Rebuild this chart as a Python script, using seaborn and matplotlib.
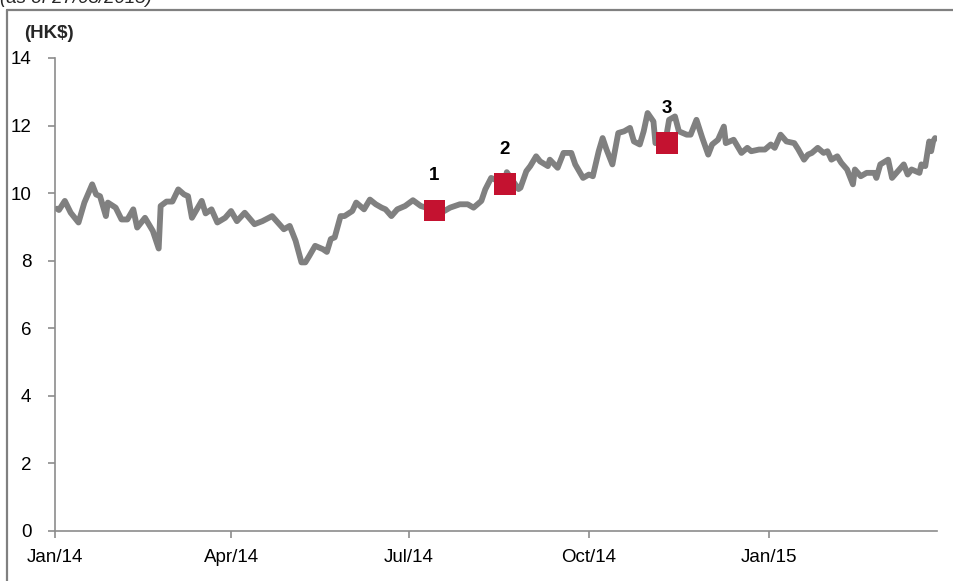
import matplotlib
matplotlib.use("Agg")
import matplotlib.pyplot as plt
from matplotlib.lines import Line2D
import seaborn as sns
import pandas as pd

dates = [
    "2014-01-02", "2014-01-03", "2014-01-06", "2014-01-09", "2014-01-13", "2014-01-16",
    "2014-01-20", "2014-01-22", "2014-01-24", "2014-01-27", "2014-01-28", "2014-02-01",
    "2014-02-04", "2014-02-07", "2014-02-10", "2014-02-12", "2014-02-16", "2014-02-20",
    "2014-02-23", "2014-02-24", "2014-02-27", "2014-03-02", "2014-03-05", "2014-03-08",
    "2014-03-10", "2014-03-12", "2014-03-17", "2014-03-19", "2014-03-22", "2014-03-25",
    "2014-03-29", "2014-04-01", "2014-04-04", "2014-04-08", "2014-04-13", "2014-04-17",
    "2014-04-22", "2014-04-28", "2014-05-01", "2014-05-04", "2014-05-07", "2014-05-09",
    "2014-05-11", "2014-05-14", "2014-05-18", "2014-05-20", "2014-05-22", "2014-05-24",
    "2014-05-27", "2014-05-29", "2014-06-02", "2014-06-04", "2014-06-08", "2014-06-11",
    "2014-06-14", "2014-06-17", "2014-06-19", "2014-06-22", "2014-06-25", "2014-06-29",
    "2014-07-03", "2014-07-07", "2014-07-13", "2014-07-19", "2014-07-22", "2014-07-27",
    "2014-07-31", "2014-08-03", "2014-08-07", "2014-08-09", "2014-08-12", "2014-08-14",
    "2014-08-19", "2014-08-20", "2014-08-26", "2014-08-27", "2014-08-30", "2014-09-01",
    "2014-09-04", "2014-09-06", "2014-09-10", "2014-09-11", "2014-09-15", "2014-09-18",
    "2014-09-22", "2014-09-24", "2014-09-28", "2014-10-01", "2014-10-03", "2014-10-06",
    "2014-10-08", "2014-10-10", "2014-10-13", "2014-10-16", "2014-10-19", "2014-10-22",
    "2014-10-24", "2014-10-27", "2014-10-29", "2014-10-31", "2014-11-03", "2014-11-04",
    "2014-11-09", "2014-11-11", "2014-11-14", "2014-11-16", "2014-11-20", "2014-11-22",
    "2014-11-25", "2014-11-28", "2014-12-01", "2014-12-03", "2014-12-06", "2014-12-09",
    "2014-12-10", "2014-12-14", "2014-12-18", "2014-12-21", "2014-12-23", "2014-12-27",
    "2014-12-30", "2015-01-02", "2015-01-04", "2015-01-07", "2015-01-10", "2015-01-14",
    "2015-01-16", "2015-01-19", "2015-01-21", "2015-01-23", "2015-01-26", "2015-01-29",
    "2015-01-31", "2015-02-02", "2015-02-05", "2015-02-07", "2015-02-10", "2015-02-13",
    "2015-02-14", "2015-02-17", "2015-02-20", "2015-02-24", "2015-02-25", "2015-02-27",
    "2015-03-03", "2015-03-05", "2015-03-08", "2015-03-11", "2015-03-13", "2015-03-15",
    "2015-03-19", "2015-03-20", "2015-03-22", "2015-03-24", "2015-03-25", "2015-03-26",
    "2015-03-27",
]
prices = [
    9.54, 9.50, 9.77, 9.42, 9.13, 9.72,
    10.26, 9.96, 9.91, 9.32, 9.72, 9.57,
    9.22, 9.22, 9.52, 8.98, 9.27, 8.88,
    8.36, 9.62, 9.75, 9.75, 10.11, 9.96,
    9.91, 9.27, 9.77, 9.40, 9.52, 9.13,
    9.27, 9.47, 9.17, 9.42, 9.08, 9.17,
    9.32, 8.93, 9.03, 8.59, 7.95, 7.95,
    8.14, 8.44, 8.34, 8.26, 8.64, 8.69,
    9.32, 9.32, 9.47, 9.72, 9.52, 9.81,
    9.67, 9.57, 9.52, 9.32, 9.52, 9.62,
    9.79, 9.62, 9.51, 9.47, 9.57, 9.67,
    9.67, 9.57, 9.77, 10.11, 10.45, 10.40,
    10.29, 10.62, 10.12, 10.16, 10.65, 10.80,
    11.09, 10.94, 10.80, 10.99, 10.75, 11.19,
    11.19, 10.85, 10.45, 10.55, 10.50, 11.24,
    11.63, 11.29, 10.85, 11.78, 11.83, 11.93,
    11.53, 11.44, 11.83, 12.37, 12.12, 11.48,
    11.50, 12.17, 12.27, 11.83, 11.73, 11.73,
    12.17, 11.63, 11.14, 11.44, 11.58, 11.97,
    11.48, 11.58, 11.19, 11.34, 11.24, 11.29,
    11.29, 11.44, 11.34, 11.73, 11.53, 11.48,
    11.30, 10.99, 11.14, 11.19, 11.34, 11.19,
    11.24, 10.99, 11.09, 10.90, 10.70, 10.26,
    10.70, 10.50, 10.60, 10.60, 10.45, 10.85,
    10.99, 10.45, 10.65, 10.85, 10.55, 10.70,
    10.60, 10.85, 10.80, 11.53, 11.24, 11.53,
    11.63,
]

event_dates = ["2014-07-14", "2014-08-19", "2014-11-10"]
event_values = [9.49, 10.27, 11.49]
event_labels = ["1", "2", "3"]

y_ticks = [0, 2, 4, 6, 8, 10, 12, 14]
x_tick_dates = ["2014-01-01", "2014-04-01", "2014-07-01", "2014-10-01", "2015-01-01"]
x_tick_labels = ["Jan/14", "Apr/14", "Jul/14", "Oct/14", "Jan/15"]

df = pd.DataFrame({"date": pd.to_datetime(dates), "price": prices})
ev = pd.DataFrame({"date": pd.to_datetime(event_dates), "price": event_values, "label": event_labels})

sns.set_theme(style="ticks")
plt.rcParams["font.family"] = ["Liberation Sans", "DejaVu Sans"]

fig = plt.figure(figsize=(9.54, 5.81), dpi=100)
ax = fig.add_axes([0.0577, 0.0861, 0.9245, 0.8141])

sns.lineplot(data=df, x="date", y="price", ax=ax, color="#808080", linewidth=4.2,
             solid_joinstyle="round", solid_capstyle="round")
sns.scatterplot(data=ev, x="date", y="price", ax=ax, marker="s", s=240,
                color="#C41230", edgecolor="none", zorder=5)
for _, r in ev.iterrows():
    ax.annotate(r["label"], (r["date"], r["price"]), xytext=(0, 25),
                textcoords="offset points", ha="center", va="center",
                fontsize=13.5, fontweight="bold", color="black")

ax.set_xlim(pd.Timestamp("2014-01-01"), pd.Timestamp("2015-03-28"))
ax.set_ylim(0, 14)
ax.set_yticks(y_ticks)
ax.set_xticks(pd.to_datetime(x_tick_dates))
ax.set_xticklabels(x_tick_labels)
ax.set_xlabel("")
ax.set_ylabel("")
for s in ["top", "right"]:
    ax.spines[s].set_visible(False)
for s in ["left", "bottom"]:
    ax.spines[s].set_color("#8c8c8c")
    ax.spines[s].set_linewidth(1.2)
ax.tick_params(axis="both", direction="out", length=5, width=1.2, color="#8c8c8c",
               labelsize=13.5, labelcolor="black")
ax.tick_params(axis="y", pad=12)
ax.tick_params(axis="x", pad=8)
ax.grid(False)

fig.text(0.025, 0.943, "(HK$)", fontsize=13.5, fontweight="bold", ha="left", va="center")
fig.text(0.0, 0.994, "(as of 27/03/2015)", fontsize=13.5, style="italic", ha="left", va="baseline")

fig.add_artist(Line2D([0.0073, 1.0], [0.9828, 0.9828], color="#808080", linewidth=1.6,
                      transform=fig.transFigure))
fig.add_artist(Line2D([0.0073, 0.0073], [0.0, 0.9828], color="#808080", linewidth=1.6,
                      transform=fig.transFigure))

fig.savefig("out.png", dpi=100)
